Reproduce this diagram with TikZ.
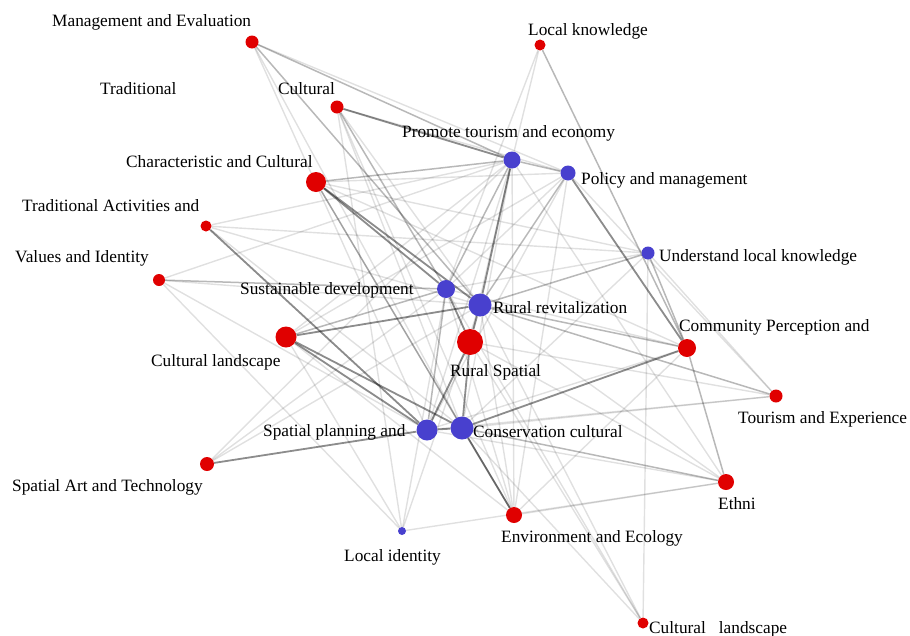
\documentclass[tikz,border=0pt]{standalone}
\usepackage{fontspec}
\setmainfont{Liberation Serif}
\usetikzlibrary{backgrounds}
\definecolor{topicred}{RGB}{224,0,0}
\definecolor{themeblue}{RGB}{72,64,206}
\tikzset{
        topic/.style={circle, fill=topicred, inner sep=0pt},
        theme/.style={circle, fill=themeblue, inner sep=0pt},
        tag/.style={anchor=base west, inner sep=0pt, font=\fontsize{17.3}{20}\selectfont},
        tie-strong/.style={draw=black, opacity=.45, line width=1.8pt},
        tie-mid/.style={draw=black, opacity=.28, line width=1.5pt},
        tie-weak/.style={draw=black, opacity=.12, line width=1.4pt},
}
\begin{document}
\begin{tikzpicture}[x=1pt, y=-1pt]
        \useasboundingbox (0,0) rectangle (910,635);

        % DRAW NODES (red = topics, blue = themes)
        \node[topic, minimum size=13pt] (ME)  at (252,42)  {};
        \node[topic, minimum size=11pt] (LK)  at (540,45)  {};
        \node[topic, minimum size=13pt] (CU)  at (337,107) {};
        \node[topic, minimum size=20pt] (CH)  at (316,182) {};
        \node[topic, minimum size=11pt] (TA)  at (206,226) {};
        \node[topic, minimum size=12pt] (VI)  at (159,280) {};
        \node[topic, minimum size=21pt] (CL)  at (286,337) {};
        \node[topic, minimum size=26pt] (RS)  at (470,342) {};
        \node[topic, minimum size=18pt] (CP)  at (687,348) {};
        \node[topic, minimum size=13pt] (TE)  at (776,396) {};
        \node[topic, minimum size=14pt] (SA)  at (207,464) {};
        \node[topic, minimum size=16pt] (ET)  at (726,482) {};
        \node[topic, minimum size=16pt] (EE)  at (514,515) {};
        \node[topic, minimum size=11pt] (CL2) at (643,623) {};
        \node[theme, minimum size=17pt] (PT)  at (512,160) {};
        \node[theme, minimum size=15pt] (PM)  at (568,173) {};
        \node[theme, minimum size=13pt] (ULK) at (648,253) {};
        \node[theme, minimum size=18pt] (SD)  at (446,289) {};
        \node[theme, minimum size=23pt] (RR)  at (480,305) {};
        \node[theme, minimum size=21pt] (SP)  at (427,430) {};
        \node[theme, minimum size=23pt] (CC)  at (462,428) {};
        \node[theme, minimum size=8pt]  (LI)  at (402,531) {};

        % LABELS
        \node[tag] (tME)  at (52,26)   {Management and Evaluation};
        \node[tag] (tTR)  at (100,94)  {Traditional};
        \node[tag] (tCU)  at (278,94)  {Cultural};
        \node[tag] (tCH)  at (126,167) {Characteristic and Cultural};
        \node[tag] (tTA)  at (22,211)  {Traditional Activities and};
        \node[tag] (tVI)  at (15,262)  {Values and Identity};
        \node[tag] (tSD)  at (240,294) {Sustainable development};
        \node[tag] (tLK)  at (528,35)  {Local knowledge};
        \node[tag] (tPT)  at (402,137) {Promote tourism and economy};
        \node[tag] (tPM)  at (581,184) {Policy and management};
        \node[tag] (tULK) at (659,261) {Understand local knowledge};
        \node[tag] (tRR)  at (493,313) {Rural revitalization};
        \node[tag] (tCP)  at (679,331) {Community Perception and};
        \node[tag] (tRS)  at (450,376) {Rural Spatial};
        \node[tag] (tTE)  at (738,423) {Tourism and Experience};
        \node[tag] (tCC)  at (473,437) {Conservation cultural};
        \node[tag] (tET)  at (718,509) {Ethni};
        \node[tag] (tEE)  at (501,542) {Environment and Ecology};
        \node[tag] (tCL2) at (649,633) {Cultural\ \ \ landscape};
        \node[tag] (tCL)  at (151,366) {Cultural landscape};
        \node[tag] (tSP)  at (263,436) {Spatial planning and};
        \node[tag] (tSA)  at (12,491)  {Spatial Art and Technology};
        \node[tag] (tLI)  at (344,561) {Local identity};

        \begin{scope}[on background layer]
        % STRONG TIES
        \foreach \a/\b in {RR/RS, SD/RS, RS/CC, RS/SP, CH/SD, CH/RR, CL/RR, CL/SP, CL/CC,
                           SA/SP, CC/CP, CC/EE, PT/RR, PM/CP, TA/SP, CU/PT, SP/CC}
            \draw[tie-strong] (\a) -- (\b);

        % MEDIUM TIES
        \foreach \a/\b in {LK/CP, CH/PT, VI/SD, CC/ET, CP/ET, RR/TE, ME/PT, PT/PM, ULK/RR,
                           ULK/CP, CL/SD, CH/EE, RR/CP, CU/SD, PT/SD, SD/SP, ME/RR, PM/RR}
            \draw[tie-mid] (\a) -- (\b);

        % WEAK TIES
        \foreach \a/\b in {ME/PM, ME/SP, ME/CC, LK/PT, LK/SD, CU/CC, CU/EE, CU/LI, CU/RR,
                           CH/PM, CH/ULK, CH/CC, CH/CP, TA/PT, TA/RR, TA/CC, TA/ULK,
                           VI/RR, VI/PT, VI/LI, VI/SP, CL/PT, CL/EE, CL/LI, CL/PM,
                           SA/SD, SA/RR, SA/PT, SP/PT, SP/PM, SP/CP, SP/ET, CC/PT, CC/TE,
                           CC/ULK, CC/CL2, EE/PM, EE/PT, EE/SD, EE/RR, EE/ET, EE/CP,
                           RR/ET, RR/CL2, SD/ULK, SD/CP, RS/PT, RS/ET, RS/CL2, RS/TE,
                           CL2/ULK, CL2/SD, LI/SD, LI/ET, LI/RR, TE/ULK, TE/PM, TE/SP,
                           PM/SD, ET/PT, CU/PM}
            \draw[tie-weak] (\a) -- (\b);
        \end{scope}

\end{tikzpicture}
\end{document}
